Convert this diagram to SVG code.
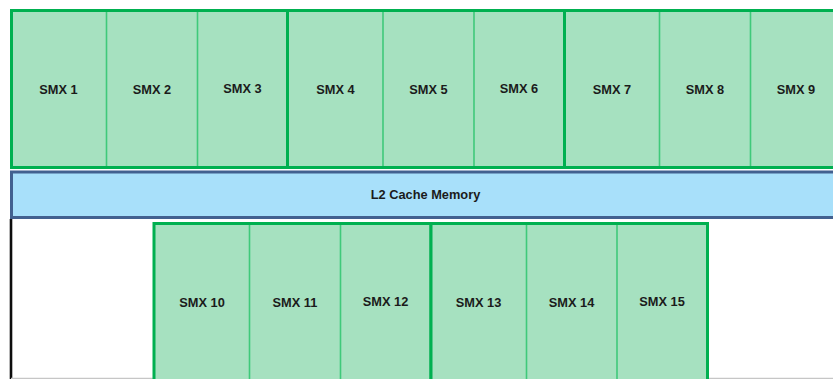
<svg xmlns="http://www.w3.org/2000/svg" width="833" height="379" viewBox="0 0 833 379">
  <style>
    .bg { fill: #ffffff; }
    .cell { fill: #a6e1c0; stroke: none; }
    .div { stroke: #3fc97a; stroke-width: 1.6; fill: none; }
    .cluster { fill: none; stroke: #00b050; stroke-width: 3; }
    .cache { fill: #a8e0fa; stroke: #42618f; stroke-width: 3; }
    .lbl { font-family: "Liberation Sans", Arial, sans-serif; font-weight: bold; font-size: 12.8px; fill: #1b1b1b; text-anchor: middle; }
  </style>

  <rect class="bg" x="0" y="0" width="833" height="379"/>

  <!-- frame lines of the lower area -->
  <g id="frame">
    <line x1="11" y1="219" x2="11" y2="379" stroke="#0d0d0d" stroke-width="2.6"/>
    <line x1="11" y1="378.4" x2="833" y2="378.4" stroke="#c6c6c6" stroke-width="1.4"/>
  </g>

  <!-- upper row: three clusters of three SMX units -->
  <g id="cluster-a">
    <rect class="cell" x="11.5" y="10.5" width="276" height="157"/>
    <g id="smx1"><text class="lbl" x="58.5" y="94">SMX 1</text></g>
    <line class="div" x1="106.5" y1="12" x2="106.5" y2="166"/>
    <g id="smx2"><text class="lbl" x="152" y="94">SMX 2</text></g>
    <line class="div" x1="197.5" y1="12" x2="197.5" y2="166"/>
    <g id="smx3"><text class="lbl" x="242.5" y="92.7">SMX 3</text></g>
    <rect class="cluster" x="11.5" y="10.5" width="276" height="157"/>
  </g>

  <g id="cluster-b">
    <rect class="cell" x="287.5" y="10.5" width="277" height="157"/>
    <g id="smx4"><text class="lbl" x="335.5" y="94">SMX 4</text></g>
    <line class="div" x1="383" y1="12" x2="383" y2="166"/>
    <g id="smx5"><text class="lbl" x="428.5" y="94">SMX 5</text></g>
    <line class="div" x1="474" y1="12" x2="474" y2="166"/>
    <g id="smx6"><text class="lbl" x="519" y="92.7">SMX 6</text></g>
    <rect class="cluster" x="287.5" y="10.5" width="277" height="157"/>
  </g>

  <g id="cluster-c">
    <rect class="cell" x="564.5" y="10.5" width="280" height="157"/>
    <g id="smx7"><text class="lbl" x="612" y="94">SMX 7</text></g>
    <line class="div" x1="659.5" y1="12" x2="659.5" y2="166"/>
    <g id="smx8"><text class="lbl" x="705" y="94">SMX 8</text></g>
    <line class="div" x1="750.5" y1="12" x2="750.5" y2="166"/>
    <g id="smx9"><text class="lbl" x="796" y="94">SMX 9</text></g>
    <rect class="cluster" x="564.5" y="10.5" width="280" height="157"/>
  </g>

  <!-- shared L2 cache bar -->
  <g id="l2-cache">
    <rect class="cache" x="11.5" y="172" width="830" height="45.5"/>
    <text class="lbl" x="425.5" y="199">L2 Cache Memory</text>
  </g>

  <!-- lower row: two clusters of three SMX units -->
  <g id="cluster-d">
    <rect class="cell" x="154" y="223.5" width="277" height="160"/>
    <g id="smx10"><text class="lbl" x="202" y="307">SMX 10</text></g>
    <line class="div" x1="249.5" y1="225" x2="249.5" y2="381"/>
    <g id="smx11"><text class="lbl" x="295" y="307">SMX 11</text></g>
    <line class="div" x1="340.5" y1="225" x2="340.5" y2="381"/>
    <g id="smx12"><text class="lbl" x="385.5" y="306">SMX 12</text></g>
    <rect class="cluster" x="154" y="223.5" width="277" height="160"/>
  </g>

  <g id="cluster-e">
    <rect class="cell" x="431" y="223.5" width="276.5" height="160"/>
    <g id="smx13"><text class="lbl" x="478.5" y="307">SMX 13</text></g>
    <line class="div" x1="526.5" y1="225" x2="526.5" y2="381"/>
    <g id="smx14"><text class="lbl" x="571.5" y="307">SMX 14</text></g>
    <line class="div" x1="617" y1="225" x2="617" y2="381"/>
    <g id="smx15"><text class="lbl" x="662" y="306">SMX 15</text></g>
    <rect class="cluster" x="431" y="223.5" width="276.5" height="160"/>
  </g>
</svg>
